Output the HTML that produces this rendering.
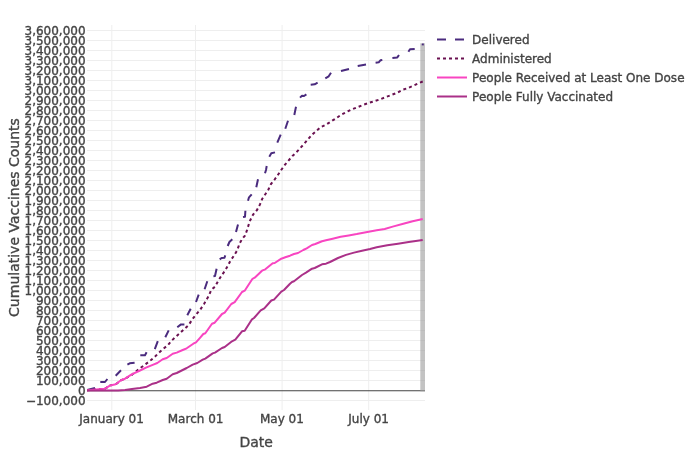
<!DOCTYPE html>
<html><head><meta charset="utf-8"><title>Cumulative Vaccines Counts</title>
<style>
html,body{margin:0;padding:0;background:#fff;}
svg{display:block;font-family:"DejaVu Sans","Liberation Sans",sans-serif;fill:#444;}
text{stroke:#444;stroke-width:0.35px;}
.g{fill:#eee;shape-rendering:crispEdges;}
.yt text{font-size:12px;text-anchor:end;}
.xt text{font-size:12px;text-anchor:middle;}
.lg text{font-size:12px;}
.ln{fill:none;stroke-width:2;stroke-linejoin:round;}
</style></head><body>
<svg width="700" height="450" viewBox="0 0 700 450">
<rect x="0" y="0" width="700" height="450" fill="#fff"/>
<defs><clipPath id="cp"><rect x="87" y="25" width="338" height="385"/></clipPath></defs>
<g class="g">
<rect x="111.3" y="25" width="1" height="385" shape-rendering="auto"/>
<rect x="195.0" y="25" width="1" height="385" shape-rendering="auto"/>
<rect x="281.6" y="25" width="1" height="385" shape-rendering="auto"/>
<rect x="368.2" y="25" width="1" height="385" shape-rendering="auto"/>
<rect x="87" y="400" width="338" height="1"/>
<rect x="87" y="380" width="338" height="1"/>
<rect x="87" y="370" width="338" height="1"/>
<rect x="87" y="360" width="338" height="1"/>
<rect x="87" y="350" width="338" height="1"/>
<rect x="87" y="340" width="338" height="1"/>
<rect x="87" y="330" width="338" height="1"/>
<rect x="87" y="320" width="338" height="1"/>
<rect x="87" y="310" width="338" height="1"/>
<rect x="87" y="300" width="338" height="1"/>
<rect x="87" y="290" width="338" height="1"/>
<rect x="87" y="280" width="338" height="1"/>
<rect x="87" y="270" width="338" height="1"/>
<rect x="87" y="260" width="338" height="1"/>
<rect x="87" y="250" width="338" height="1"/>
<rect x="87" y="240" width="338" height="1"/>
<rect x="87" y="230" width="338" height="1"/>
<rect x="87" y="220" width="338" height="1"/>
<rect x="87" y="210" width="338" height="1"/>
<rect x="87" y="200" width="338" height="1"/>
<rect x="87" y="190" width="338" height="1"/>
<rect x="87" y="180" width="338" height="1"/>
<rect x="87" y="170" width="338" height="1"/>
<rect x="87" y="160" width="338" height="1"/>
<rect x="87" y="150" width="338" height="1"/>
<rect x="87" y="140" width="338" height="1"/>
<rect x="87" y="130" width="338" height="1"/>
<rect x="87" y="120" width="338" height="1"/>
<rect x="87" y="110" width="338" height="1"/>
<rect x="87" y="100" width="338" height="1"/>
<rect x="87" y="90" width="338" height="1"/>
<rect x="87" y="80" width="338" height="1"/>
<rect x="87" y="70" width="338" height="1"/>
<rect x="87" y="60" width="338" height="1"/>
<rect x="87" y="50" width="338" height="1"/>
<rect x="87" y="40" width="338" height="1"/>
<rect x="87" y="30" width="338" height="1"/>
</g>
<rect x="87" y="390.25" width="338" height="1" fill="#444"/>
<rect x="420.3" y="43.3" width="4.7" height="348" fill="rgb(155,155,155)" fill-opacity="0.6"/>
<g clip-path="url(#cp)">
<path class="ln" d="M87.0,390.0L95.0,388.0 M100.3,382.0L105.0,382.0L107.4,379.0 M115.7,375.7L121.0,370.3 M127.4,364.6L129.7,363.3L134.6,362.7 M140.3,355.3L145.0,355.3L146.6,352.3 M154.8,349.2L157.8,341.2 M165.3,337.3L168.7,330.4 M177.3,327.3L181.0,324.4L184.4,324.4 M187.3,315.3L190.7,308.7 M196.0,302.0L198.7,294.7 M204.6,289.3L207.3,281.3 M213.4,276.2L215.0,276.0L216.6,268.7 M219.7,259.3L221.6,258.0L224.4,257.8L225.3,255.4 M227.7,246.0L229.4,242.0L232.3,239.3 M236.0,232.0L238.0,224.4 M243.0,217.0L245.0,216.7L245.4,210.7 M248.0,200.7L249.0,197.3L251.7,194.3 M256.3,187.3L258.0,179.3 M265.0,173.3L266.0,170.0L266.7,166.0 M269.3,156.7L271.3,153.3L275.0,152.4 M277.3,142.7L280.7,134.7 M285.3,128.7L288.0,120.7 M294.3,115.0L296.0,106.7 M300.0,97.6L302.0,95.7L304.0,96.0L306.4,94.4 M310.7,84.7L314.7,84.3L317.6,82.7 M325.3,78.4L328.7,76.3L331.0,72.7 M341.0,71.0L349.0,69.0 M357.7,66.0L366.0,64.6 M375.6,62.7L378.7,62.3L380.4,60.3L382.3,60.0 M392.4,58.0L397.3,57.4L399.0,55.0 M408.4,51.7L410.0,49.3L414.7,49.0 M422.7,45.3L422.9,43.5" stroke="#4a2b7e"/>
<path class="ln" d="M87.0,390.3L105.0,388.7L110.3,385.4L115.7,384.3L121.0,380.3L125.0,378.7L131.7,375.0L138.3,369.5L146.0,363.9L150.7,360.3L155.3,356.3L160.0,351.7L164.0,348.3L168.0,345.0L172.0,340.3L176.7,336.0L184.7,328.7L188.7,325.0L192.7,318.7L196.0,314.7L200.0,310.0L204.0,304.0L208.7,296.0L211.3,289.8L215.0,286.7L218.3,280.7L221.7,275.3L225.0,270.7L227.7,266.0L230.3,261.0L233.7,256.0L237.0,250.7L239.7,243.3L242.3,238.7L245.0,235.6L247.2,229.6L249.7,221.3L253.0,214.7L257.0,210.0L260.0,204.4L262.3,198.7L265.0,194.7L268.3,189.7L271.0,184.0L274.3,180.0L277.7,175.3L281.2,170.0L285.0,164.7L288.7,160.4L292.4,156.0L296.0,152.7L300.0,148.4L304.0,144.0L308.0,139.3L312.0,134.7L316.0,131.3L320.5,127.3L326.0,124.7L331.3,121.3L336.0,118.4L340.7,115.0L346.0,112.3L351.3,109.6L357.3,107.3L362.7,105.0L368.3,103.0L374.0,101.3L379.3,99.6L385.3,97.3L391.3,95.0L397.3,92.7L402.0,90.0L407.3,88.3L413.3,85.7L419.3,83.0L423.0,81.4" stroke="#6a1150" stroke-dasharray="3,3"/>
<path class="ln" d="M87.0,390.3L105.0,388.7L110.3,385.4L115.7,384.3L121.0,380.3L125.0,378.7L131.7,374.3L139.0,371.0L146.0,367.7L153.3,364.6L157.3,363.0L162.7,359.3L166.7,358.0L172.7,353.7L176.7,352.6L182.7,350.0L186.7,348.3L193.3,343.7L196.0,342.3L200.0,337.8L203.3,334.0L205.3,333.3L212.0,323.7L214.7,322.7L222.0,314.0L224.7,312.7L231.3,304.0L234.7,302.2L242.0,292.0L244.7,290.7L252.5,278.8L254.7,277.7L262.0,270.7L265.3,269.3L272.7,263.3L274.7,263.0L281.3,258.7L285.3,257.3L290.0,255.7L294.0,254.0L298.0,253.0L303.3,250.0L306.7,248.3L312.0,245.0L315.3,244.0L322.0,241.3L326.0,240.3L332.7,238.7L340.7,236.7L348.7,235.4L356.7,234.0L364.7,232.4L370.0,231.4L376.7,230.3L384.7,229.0L392.7,226.6L403.3,223.7L412.7,221.3L422.7,219.0" stroke="#f845c1"/>
<path class="ln" d="M87.0,390.5L118.0,390.4L125.0,389.9L132.0,389.0L140.0,388.0L146.7,386.7L152.7,383.7L156.7,382.7L162.7,380.0L166.7,378.7L172.7,374.3L176.7,373.0L182.7,370.0L186.7,368.0L192.7,364.6L197.3,363.0L202.7,359.7L205.3,358.6L212.7,353.4L215.0,352.6L222.0,348.0L224.7,347.0L232.0,341.3L235.3,339.7L242.0,331.3L244.7,330.7L252.0,319.3L254.0,318.0L260.7,310.4L264.3,308.4L271.3,300.5L274.0,299.6L281.3,291.6L284.0,290.0L290.0,283.7L292.0,282.0L294.0,281.3L302.0,275.0L306.0,272.7L312.0,268.7L314.7,268.0L322.0,264.3L326.0,263.7L330.0,262.0L338.0,258.0L346.0,254.9L354.0,252.6L362.0,250.7L370.0,249.0L376.7,247.3L387.3,245.3L398.0,243.7L408.7,242.0L422.7,240.0" stroke="#aa3088"/>
</g>
<g class="yt">
<text x="85.6" y="34.6">3,600,000</text>
<text x="85.6" y="44.6">3,500,000</text>
<text x="85.6" y="54.6">3,400,000</text>
<text x="85.6" y="64.6">3,300,000</text>
<text x="85.6" y="74.6">3,200,000</text>
<text x="85.6" y="84.6">3,100,000</text>
<text x="85.6" y="94.6">3,000,000</text>
<text x="85.6" y="104.6">2,900,000</text>
<text x="85.6" y="114.6">2,800,000</text>
<text x="85.6" y="124.6">2,700,000</text>
<text x="85.6" y="134.6">2,600,000</text>
<text x="85.6" y="144.6">2,500,000</text>
<text x="85.6" y="154.6">2,400,000</text>
<text x="85.6" y="164.6">2,300,000</text>
<text x="85.6" y="174.6">2,200,000</text>
<text x="85.6" y="184.6">2,100,000</text>
<text x="85.6" y="194.6">2,000,000</text>
<text x="85.6" y="204.6">1,900,000</text>
<text x="85.6" y="214.6">1,800,000</text>
<text x="85.6" y="224.6">1,700,000</text>
<text x="85.6" y="234.6">1,600,000</text>
<text x="85.6" y="244.6">1,500,000</text>
<text x="85.6" y="254.6">1,400,000</text>
<text x="85.6" y="264.6">1,300,000</text>
<text x="85.6" y="274.6">1,200,000</text>
<text x="85.6" y="284.6">1,100,000</text>
<text x="85.6" y="294.6">1,000,000</text>
<text x="85.6" y="304.6">900,000</text>
<text x="85.6" y="314.6">800,000</text>
<text x="85.6" y="324.6">700,000</text>
<text x="85.6" y="334.6">600,000</text>
<text x="85.6" y="344.6">500,000</text>
<text x="85.6" y="354.6">400,000</text>
<text x="85.6" y="364.6">300,000</text>
<text x="85.6" y="374.6">200,000</text>
<text x="85.6" y="384.6">100,000</text>
<text x="85.6" y="394.6">0</text>
<text x="85.6" y="404.6">−100,000</text>
</g>
<g class="xt">
<text x="111.6" y="422.6">January 01</text>
<text x="195.6" y="422.6">March 01</text>
<text x="281.9" y="422.6">May 01</text>
<text x="368.6" y="422.6">July 01</text>
</g>
<text x="256.2" y="446.7" font-size="14" text-anchor="middle">Date</text>
<text transform="translate(19.2,217.5) rotate(-90)" font-size="14" text-anchor="middle">Cumulative Vaccines Counts</text>
<g class="lg">
<path class="ln" d="M437,39.5h30" stroke="#4a2b7e" stroke-dasharray="9,9"/>
<text x="472.1" y="43.7">Delivered</text>
<path class="ln" d="M437,58.5h30" stroke="#6a1150" stroke-dasharray="3,3"/>
<text x="472.1" y="62.7">Administered</text>
<path class="ln" d="M437,77.5h30" stroke="#f845c1"/>
<text x="472.1" y="81.7">People Received at Least One Dose</text>
<path class="ln" d="M437,96.5h30" stroke="#aa3088"/>
<text x="472.1" y="100.7">People Fully Vaccinated</text>
</g>
</svg></body></html>
